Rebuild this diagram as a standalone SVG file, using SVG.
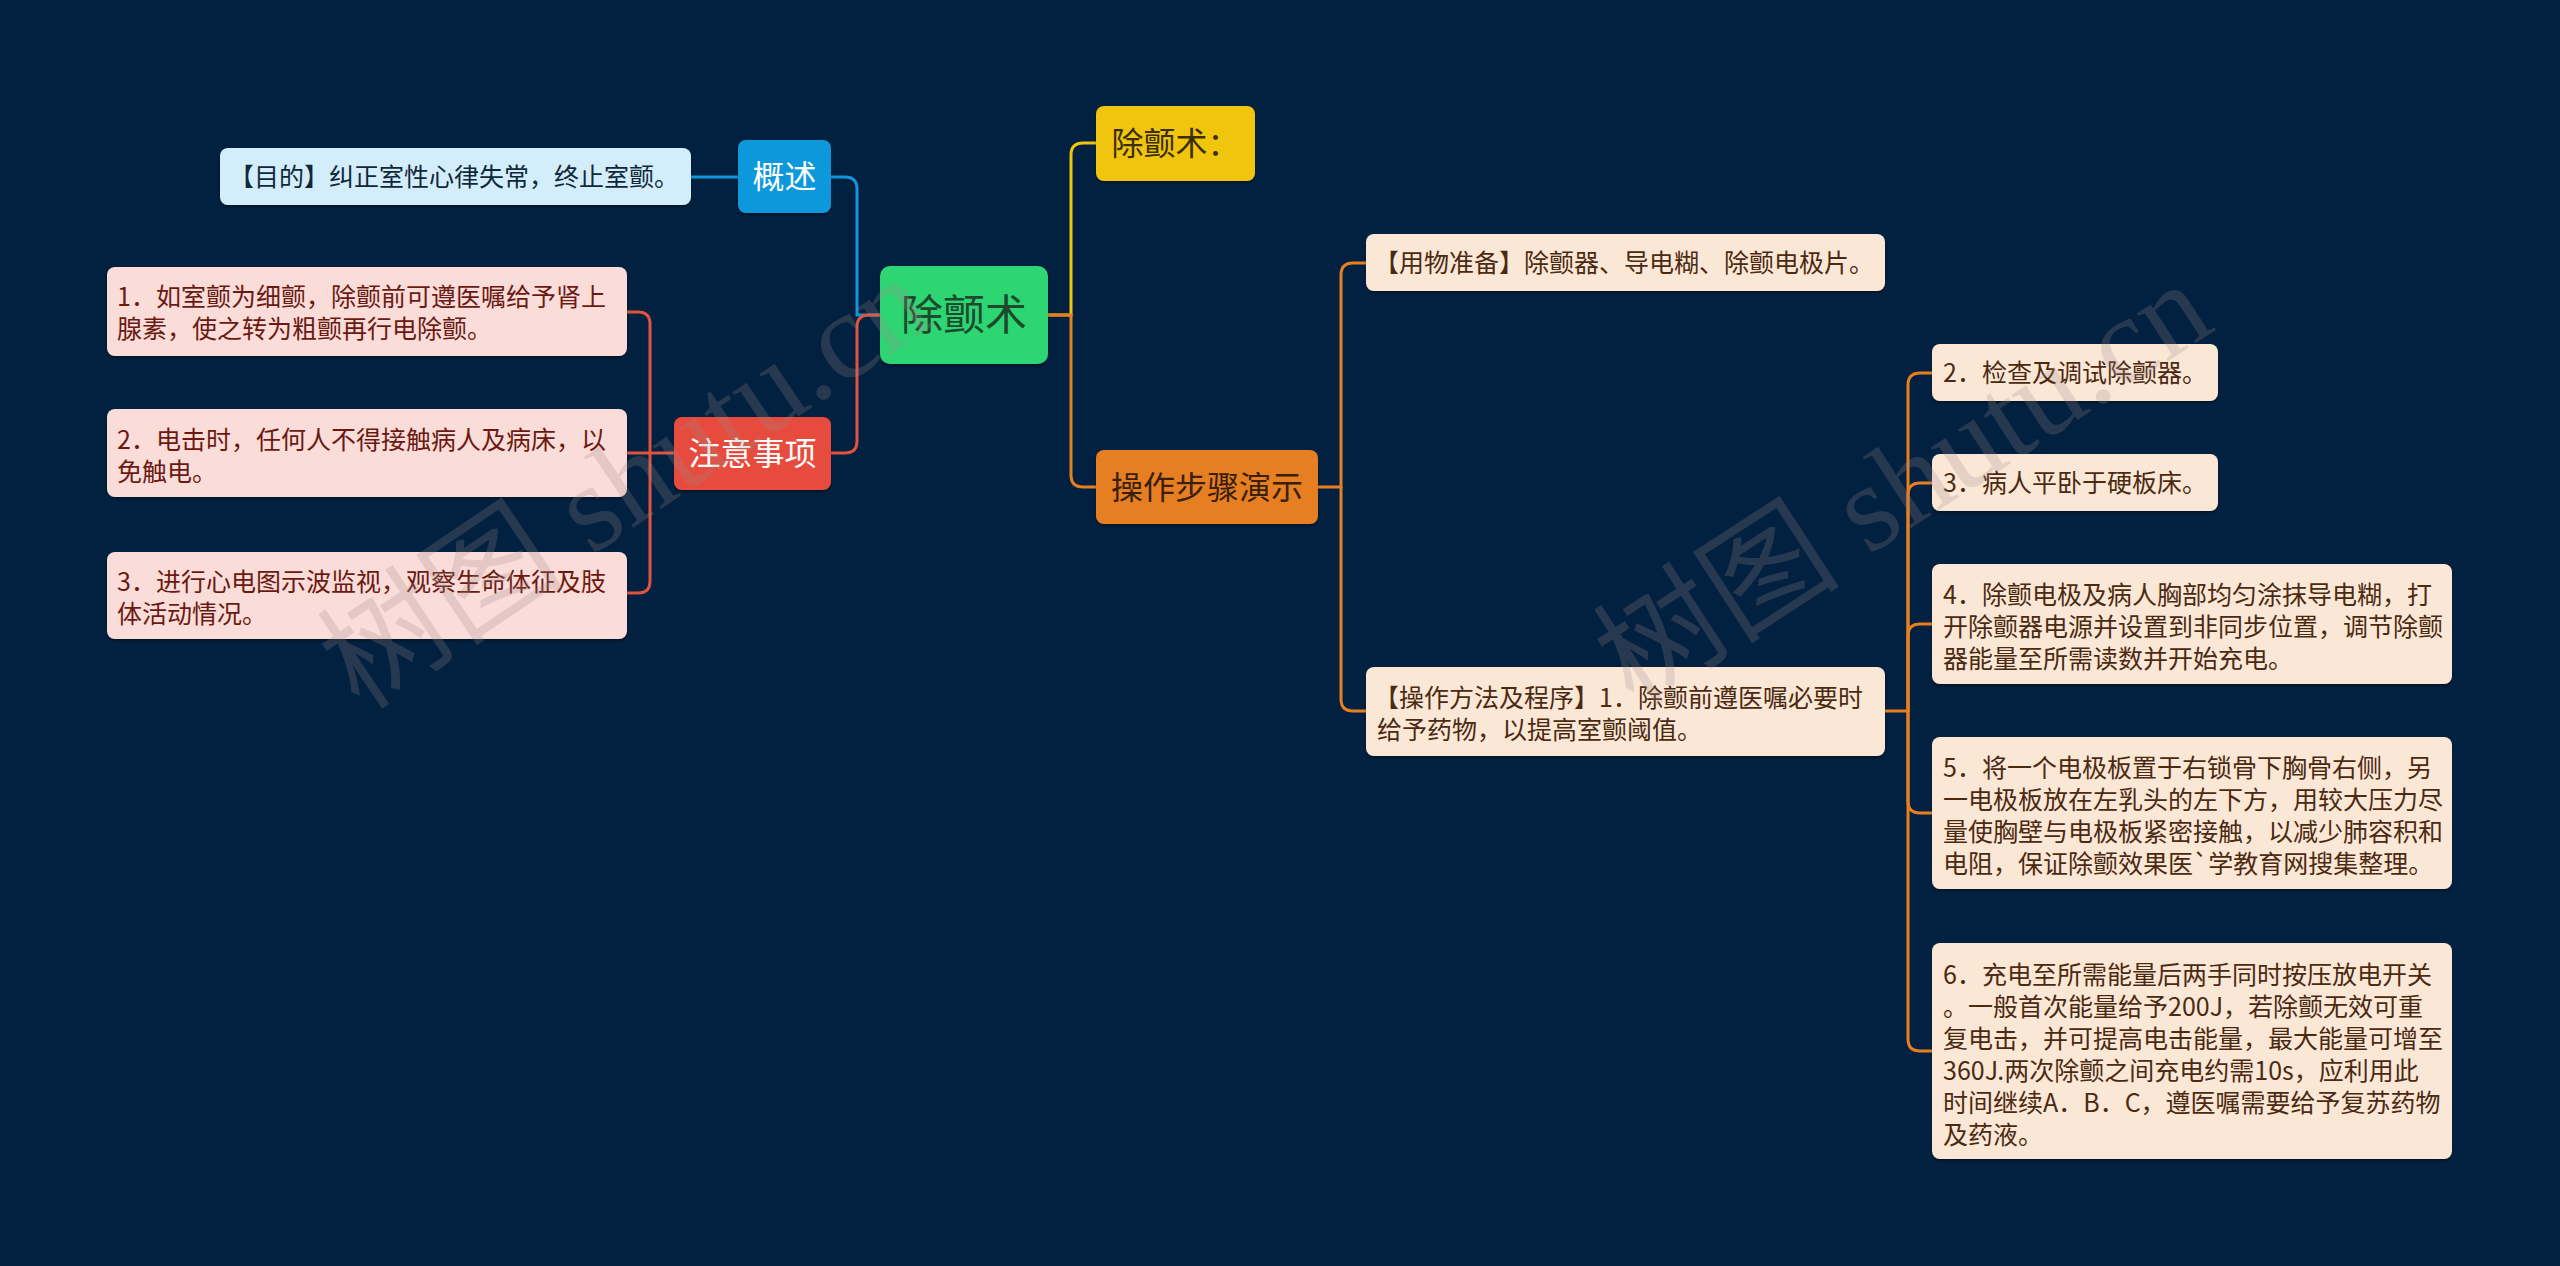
<svg xmlns="http://www.w3.org/2000/svg" width="2560" height="1266" viewBox="0 0 2560 1266">
<defs>
<filter id="sh" x="-5%" y="-10%" width="110%" height="130%">
<feDropShadow dx="0" dy="2" stdDeviation="1.2" flood-color="#000" flood-opacity="0.35"/>
</filter>
<style>
text{font-family:"Noto Sans CJK SC","Liberation Sans",sans-serif;}
.conn path{fill:none;stroke-width:3;stroke-linecap:round;}
.blue{stroke:#1296db;}
.red{stroke:#e0533f;}
.yel{stroke:#f1c40f;}
.org{stroke:#e67e22;}
.box{filter:url(#sh);}
.leaf{font-size:25px;}
.l1{font-size:32px;text-anchor:middle;}
.wm{font-family:"Liberation Serif","Noto Sans CJK SC",serif;font-size:124px;fill:#9a8c8c;fill-opacity:0.24;}
</style>
</defs>
<rect x="0" y="0" width="2560" height="1266" fill="#02203f"/>

<g class="conn" id="connectors">
<path class="blue" d="M738 177 H691"/>
<path class="blue" d="M880 315 H857 V189 Q857 177 845 177 H831"/>
<path class="red" d="M880 315 H869 Q857 315 857 327 V441 Q857 453 845 453 H831"/>
<path class="red" d="M674 453 H627"/>
<path class="red" d="M650 453 V324 Q650 312 638 312 H627"/>
<path class="red" d="M650 453 V581 Q650 593 638 593 H627"/>
<path class="yel" d="M1048 315 H1071 V155 Q1071 143 1083 143 H1096"/>
<path class="org" d="M1048 315 H1071 V475 Q1071 487 1083 487 H1096"/>
<path class="org" d="M1318 487 H1341 V275 Q1341 263 1353 263 H1366"/>
<path class="org" d="M1341 487 V699 Q1341 711 1353 711 H1366"/>
<path class="org" d="M1885 711 H1908"/>
<path class="org" d="M1908 711 V385 Q1908 373 1920 373 H1932"/>
<path class="org" d="M1908 711 V495 Q1908 483 1920 483 H1932"/>
<path class="org" d="M1908 711 V636 Q1908 624 1920 624 H1932"/>
<path class="org" d="M1908 711 V801 Q1908 813 1920 813 H1932"/>
<path class="org" d="M1908 711 V1039 Q1908 1051 1920 1051 H1932"/>
</g>

<g id="root">
<rect class="box" x="880" y="266" width="168" height="98" rx="10" fill="#2ed573"/>
<text x="964" y="330" font-size="42" text-anchor="middle" fill="#1d4a2c">除颤术</text>
</g>

<g id="gaishu">
<rect class="box" x="738" y="140" width="93" height="73" rx="8" fill="#0e98dc"/>
<text class="l1" x="784.5" y="188" fill="#ffffff">概述</text>
</g>
<g id="mudi">
<rect class="box" x="220" y="148" width="471" height="57" rx="8" fill="#d3eefa"/>
<text class="leaf" x="229" y="186" fill="#10283a">【目的】纠正室性心律失常，终止室颤。</text>
</g>

<g id="zhuyi">
<rect class="box" x="674" y="417" width="157" height="73" rx="8" fill="#e74c3c"/>
<text class="l1" x="752.5" y="465" fill="#ffffff">注意事项</text>
</g>
<g id="note1">
<rect class="box" x="107" y="267" width="520" height="89" rx="8" fill="#fadcd9"/>
<text class="leaf" fill="#6a1a12"><tspan x="117" y="306">1．如室颤为细颤，除颤前可遵医嘱给予肾上</tspan><tspan x="117" y="338">腺素，使之转为粗颤再行电除颤。</tspan></text>
</g>
<g id="note2">
<rect class="box" x="107" y="409" width="520" height="88" rx="8" fill="#fadcd9"/>
<text class="leaf" fill="#6a1a12"><tspan x="117" y="449">2．电击时，任何人不得接触病人及病床，以</tspan><tspan x="117" y="481">免触电。</tspan></text>
</g>
<g id="note3">
<rect class="box" x="107" y="552" width="520" height="87" rx="8" fill="#fadcd9"/>
<text class="leaf" fill="#6a1a12"><tspan x="117" y="591">3．进行心电图示波监视，观察生命体征及肢</tspan><tspan x="117" y="623">体活动情况。</tspan></text>
</g>

<g id="chuchanshu">
<rect class="box" x="1096" y="106" width="159" height="75" rx="8" fill="#f1c40f"/>
<text class="l1" x="1175.5" y="155" fill="#3a2e02">除颤术：</text>
</g>

<g id="caozuo">
<rect class="box" x="1096" y="450" width="222" height="74" rx="8" fill="#e67e22"/>
<text class="l1" x="1207" y="499" fill="#3a200c">操作步骤演示</text>
</g>
<g id="yongwu">
<rect class="box" x="1366" y="234" width="519" height="57" rx="8" fill="#fbe7d6"/>
<text class="leaf" x="1374" y="272" fill="#4b2a12">【用物准备】除颤器、导电糊、除颤电极片。</text>
</g>
<g id="fangfa">
<rect class="box" x="1366" y="667" width="519" height="89" rx="8" fill="#fbe7d6"/>
<text class="leaf" fill="#4b2a12"><tspan x="1374" y="707">【操作方法及程序】1．除颤前遵医嘱必要时</tspan><tspan x="1377" y="739">给予药物，以提高室颤阈值。</tspan></text>
</g>
<g id="step2">
<rect class="box" x="1932" y="344" width="286" height="57" rx="8" fill="#fbe7d6"/>
<text class="leaf" x="1943" y="382" fill="#4b2a12">2．检查及调试除颤器。</text>
</g>
<g id="step3">
<rect class="box" x="1932" y="454" width="286" height="57" rx="8" fill="#fbe7d6"/>
<text class="leaf" x="1943" y="492" fill="#4b2a12">3．病人平卧于硬板床。</text>
</g>
<g id="step4">
<rect class="box" x="1932" y="564" width="520" height="120" rx="8" fill="#fbe7d6"/>
<text class="leaf" fill="#4b2a12"><tspan x="1943" y="604">4．除颤电极及病人胸部均匀涂抹导电糊，打</tspan><tspan x="1943" y="636">开除颤器电源并设置到非同步位置，调节除颤</tspan><tspan x="1943" y="668">器能量至所需读数并开始充电。</tspan></text>
</g>
<g id="step5">
<rect class="box" x="1932" y="737" width="520" height="152" rx="8" fill="#fbe7d6"/>
<text class="leaf" fill="#4b2a12"><tspan x="1943" y="777">5．将一个电极板置于右锁骨下胸骨右侧，另</tspan><tspan x="1943" y="809">一电极板放在左乳头的左下方，用较大压力尽</tspan><tspan x="1943" y="841">量使胸壁与电极板紧密接触，以减少肺容积和</tspan><tspan x="1943" y="873">电阻，保证除颤效果医`学教育网搜集整理。</tspan></text>
</g>
<g id="step6">
<rect class="box" x="1932" y="943" width="520" height="216" rx="8" fill="#fbe7d6"/>
<text class="leaf" fill="#4b2a12"><tspan x="1943" y="984">6．充电至所需能量后两手同时按压放电开关</tspan><tspan x="1943" y="1016">。一般首次能量给予200J，若除颤无效可重</tspan><tspan x="1943" y="1048">复电击，并可提高电击能量，最大能量可增至</tspan><tspan x="1943" y="1080">360J.两次除颤之间充电约需10s，应利用此</tspan><tspan x="1943" y="1112">时间继续A．B．C，遵医嘱需要给予复苏药物</tspan><tspan x="1943" y="1144">及药液。</tspan></text>
</g>

<g id="watermarks">
<text class="wm" x="360" y="712" transform="rotate(-34 360 712)">树图 shutu.cn</text>
<text class="wm" x="1634" y="708" transform="rotate(-33 1634 708)">树图 shutu.cn</text>
</g>
</svg>
